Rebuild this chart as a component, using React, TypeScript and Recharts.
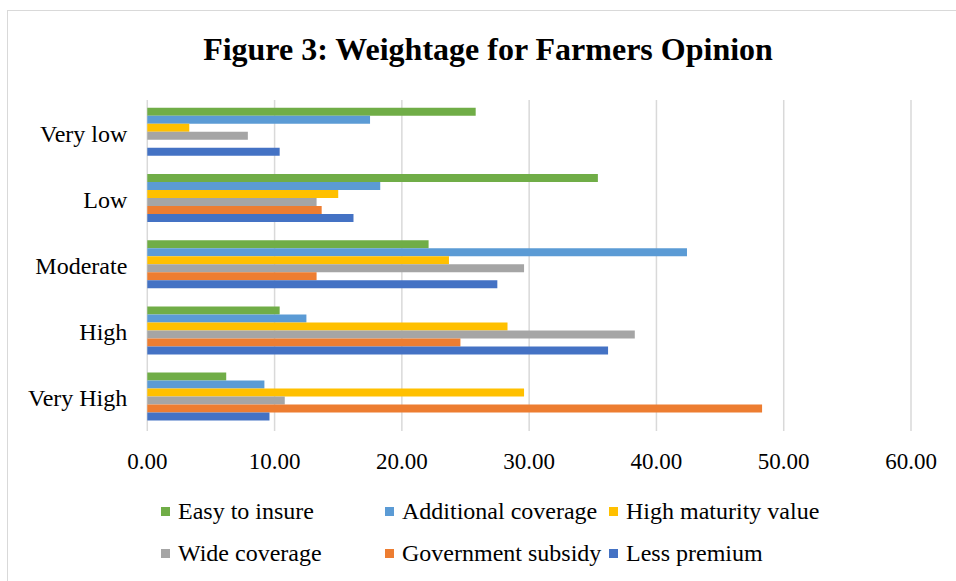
import React from "react";
import { BarChart, Bar, XAxis, YAxis, CartesianGrid } from "recharts";

const categories = ["Very low", "Low", "Moderate", "High", "Very High"];
const easyToInsure = [25.8, 35.4, 22.1, 10.4, 6.2];
const additionalCoverage = [17.5, 18.3, 42.4, 12.5, 9.2];
const highMaturityValue = [3.3, 15.0, 23.7, 28.3, 29.6];
const wideCoverage = [7.9, 13.3, 29.6, 38.3, 10.8];
const governmentSubsidy = [0, 13.7, 13.3, 24.6, 48.3];
const lessPremium = [10.4, 16.2, 27.5, 36.2, 9.6];
const xTicks = [0, 10, 20, 30, 40, 50, 60];

const series = [
  { key: "easy", name: "Easy to insure", color: "#70AD47", values: easyToInsure },
  { key: "additional", name: "Additional coverage", color: "#5B9BD5", values: additionalCoverage },
  { key: "maturity", name: "High maturity value", color: "#FFC000", values: highMaturityValue },
  { key: "wide", name: "Wide coverage", color: "#A5A5A5", values: wideCoverage },
  { key: "gov", name: "Government subsidy", color: "#ED7D31", values: governmentSubsidy },
  { key: "less", name: "Less premium", color: "#4472C4", values: lessPremium },
];

const data = categories.map((c, i) => {
  const row: any = { category: c };
  series.forEach((s) => {
    row[s.key] = s.values[i];
  });
  return row;
});

const FONT = '"Liberation Serif", "Times New Roman", serif';

export default function App() {
  return (
    <div style={{ position: "absolute", left: 0, top: 0, width: 956, height: 581, background: "#fff", overflow: "hidden", fontFamily: FONT }}>
      <div style={{ position: "absolute", left: 7, top: 10, width: 1000, height: 700, borderLeft: "1.5px solid #d9d9d9", borderTop: "1.5px solid #d9d9d9" }} />
      <div style={{ position: "absolute", left: 0, top: 29, width: 976, textAlign: "center", fontSize: 32, fontWeight: "bold", color: "#000", lineHeight: "40px" }}>
        Figure 3: Weightage for Farmers Opinion
      </div>
      <div style={{ position: "absolute", left: 0, top: 0 }}>
        <BarChart
          width={956}
          height={581}
          data={data}
          layout="vertical"
          margin={{ top: 100, right: 45, left: 0, bottom: 120 }}
          barCategoryGap={7.8}
          barGap={0}
        >
          <CartesianGrid horizontal={false} vertical={true} stroke="#d9d9d9" strokeWidth={1.5} />
          <XAxis
            type="number"
            domain={[0, 60]}
            ticks={xTicks}
            tickFormatter={(v: number) => v.toFixed(2)}
            axisLine={false}
            tickLine={false}
            tickSize={0}
            tickMargin={22}
            height={30}
            interval={0}
            tick={{ fill: "#000", fontSize: 23, fontFamily: FONT }}
          />
          <YAxis
            type="category"
            dataKey="category"
            width={147.3}
            axisLine={false}
            tickLine={false}
            tickSize={0}
            tickMargin={20}
            interval={0}
            tick={{ fill: "#000", fontSize: 24, fontFamily: FONT }}
          />
          {series.map((s) => (
            <Bar key={s.key} dataKey={s.key} name={s.name} fill={s.color} isAnimationActive={false} />
          ))}
        </BarChart>
      </div>
      {series.map((s, i) => {
        const col = i % 3;
        const row = Math.floor(i / 3);
        const left = 161 + col * 224;
        const cy = 511 + row * 42;
        return (
          <div key={s.key} style={{ position: "absolute", left, top: cy - 15, height: 30, display: "flex", alignItems: "center", whiteSpace: "nowrap" }}>
            <div style={{ width: 9, height: 9, background: s.color, marginRight: 8 }} />
            <span style={{ fontSize: 24, color: "#000", lineHeight: "30px" }}>{s.name}</span>
          </div>
        );
      })}
    </div>
  );
}
